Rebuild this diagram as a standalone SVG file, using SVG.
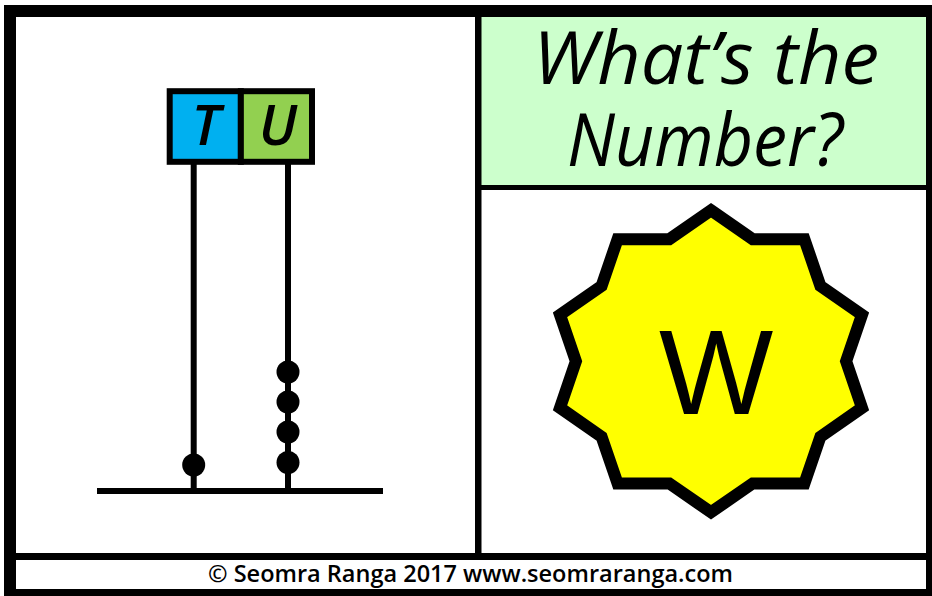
<svg xmlns="http://www.w3.org/2000/svg" width="932" height="596" viewBox="0 0 932 596">
<style>
.frame{fill:#000}
.panel{fill:#fff}
.title{font-family:"Open Sans","DejaVu Sans",sans-serif;font-style:italic;font-size:74px;fill:#000;text-anchor:middle}
.head{font-family:"Open Sans","DejaVu Sans",sans-serif;font-style:italic;font-weight:600;font-size:56px;fill:#000;text-anchor:middle}
.pole{stroke:#000;stroke-width:6;fill:none}
.bead{fill:#000}
.foot{font-family:"Open Sans","DejaVu Sans",sans-serif;font-weight:600;font-size:23px;fill:#000;text-anchor:middle}
</style>
<rect x="0" y="0" width="932" height="596" fill="#fff"/>
<rect class="frame" x="4" y="5" width="928" height="591"/>
<g id="left-panel">
<rect class="panel" x="16" y="17" width="459" height="536"/>
</g>
<g id="title-panel">
<rect x="481.5" y="17" width="444.5" height="168" fill="#CCFFCC"/>
<text class="title" x="706" y="84" textLength="346" lengthAdjust="spacingAndGlyphs">What’s the</text>
<text class="title" x="705" y="166" textLength="276" lengthAdjust="spacingAndGlyphs">Number?</text>
</g>
<g id="star-panel">
<rect class="panel" x="481.5" y="190" width="444.5" height="363"/>
<polygon fill="#FFFF00" stroke="#000" stroke-width="12" stroke-linejoin="miter" stroke-miterlimit="10" points="711,210.3 752.7,239.2 804.4,239.2 820.4,285.9 862,314.8 846.1,361.3 862,407.8 820.4,436.7 804.4,483.4 752.7,483.4 711,512.3 669.3,483.4 617.6,483.4 601.6,436.7 560,407.8 575.9,361.3 560,314.8 601.6,285.9 617.6,239.2 669.3,239.2"/>
<text x="716" y="414" font-family="Liberation Sans, Arial, sans-serif" font-size="121" text-anchor="middle" fill="#000">W</text>
</g>
<g id="footer">
<rect class="panel" x="16" y="560" width="910" height="29"/>
<text class="foot" x="470.5" y="582" textLength="525" lengthAdjust="spacingAndGlyphs">© Seomra Ranga 2017 www.seomraranga.com</text>
</g>
<g id="connectors">
<line class="pole" x1="193.7" y1="164" x2="193.7" y2="491"/>
<line class="pole" x1="288" y1="164" x2="288" y2="491"/>
<line class="pole" x1="97" y1="491" x2="383" y2="491"/>
</g>
<g id="tens">
<rect x="169.7" y="91.2" width="71.15" height="70.6" fill="#00B0F0" stroke="#000" stroke-width="6"/>
<text class="head" x="206" y="145">T</text>
<circle class="bead" cx="193.7" cy="465" r="11.5"/>
</g>
<g id="units">
<rect x="240.85" y="91.2" width="71.15" height="70.6" fill="#92D050" stroke="#000" stroke-width="6"/>
<text class="head" x="278" y="145">U</text>
<circle class="bead" cx="288" cy="372" r="11.5"/>
<circle class="bead" cx="288" cy="402" r="11.5"/>
<circle class="bead" cx="288" cy="432" r="11.5"/>
<circle class="bead" cx="288" cy="462.5" r="11.5"/>
</g>
</svg>
